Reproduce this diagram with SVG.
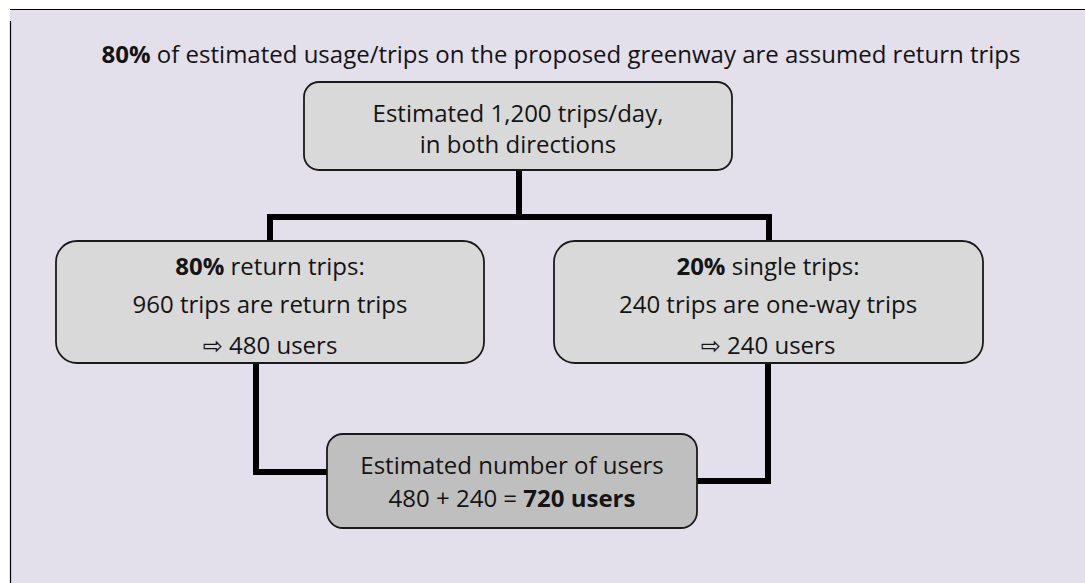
<svg xmlns="http://www.w3.org/2000/svg" width="1085" height="583" viewBox="0 0 1085 583">
<style>
text{font-family:"Open Sans","Noto Sans","DejaVu Sans",sans-serif;font-size:24px;fill:#141414;text-anchor:middle}
.b{font-weight:bold}
.box{fill:#d9d9d9;stroke:#1a1a1a;stroke-width:1.8}
.dark{fill:#bfbfbf}
.conn{fill:none;stroke:#000;stroke-width:6}
</style>
<rect x="0" y="0" width="1085" height="583" fill="#ffffff"/>
<rect x="10" y="9" width="1075" height="574" fill="#e3dfeb"/>
<line x1="10" y1="9.5" x2="1085" y2="9.5" stroke="#000" stroke-width="1.2"/>
<line x1="10.5" y1="21" x2="10.5" y2="583" stroke="#000" stroke-width="1.2"/>
<text x="561" y="63"><tspan class="b">80%</tspan> of estimated usage/trips on the proposed greenway are assumed return trips</text>
<g id="connectors">
<path class="conn" d="M519 170 V217 M270 241 V217 H769 V241"/>
<path class="conn" d="M256 363 V472 H327"/>
<path class="conn" d="M768 363 V481 H697"/>
</g>
<g id="top">
<rect class="box" x="304" y="82" width="428" height="88" rx="15"/>
<text x="518" y="122">Estimated 1,200 trips/day,</text>
<text x="518" y="153">in both directions</text>
</g>
<g id="left">
<rect class="box" x="56" y="241" width="428" height="122" rx="21"/>
<text x="270" y="275"><tspan class="b">80%</tspan> return trips:</text>
<text x="270" y="313">960 trips are return trips</text>
<text x="270" y="354">⇨ 480 users</text>
</g>
<g id="right">
<rect class="box" x="554" y="241" width="429" height="122" rx="21"/>
<text x="768" y="275"><tspan class="b">20%</tspan> single trips:</text>
<text x="768" y="313">240 trips are one-way trips</text>
<text x="768" y="354">⇨ 240 users</text>
</g>
<g id="total">
<rect class="box dark" x="327" y="434" width="370" height="94" rx="16"/>
<text x="512" y="474">Estimated number of users</text>
<text x="512" y="507">480 + 240 = <tspan class="b">720 users</tspan></text>
</g>
</svg>
